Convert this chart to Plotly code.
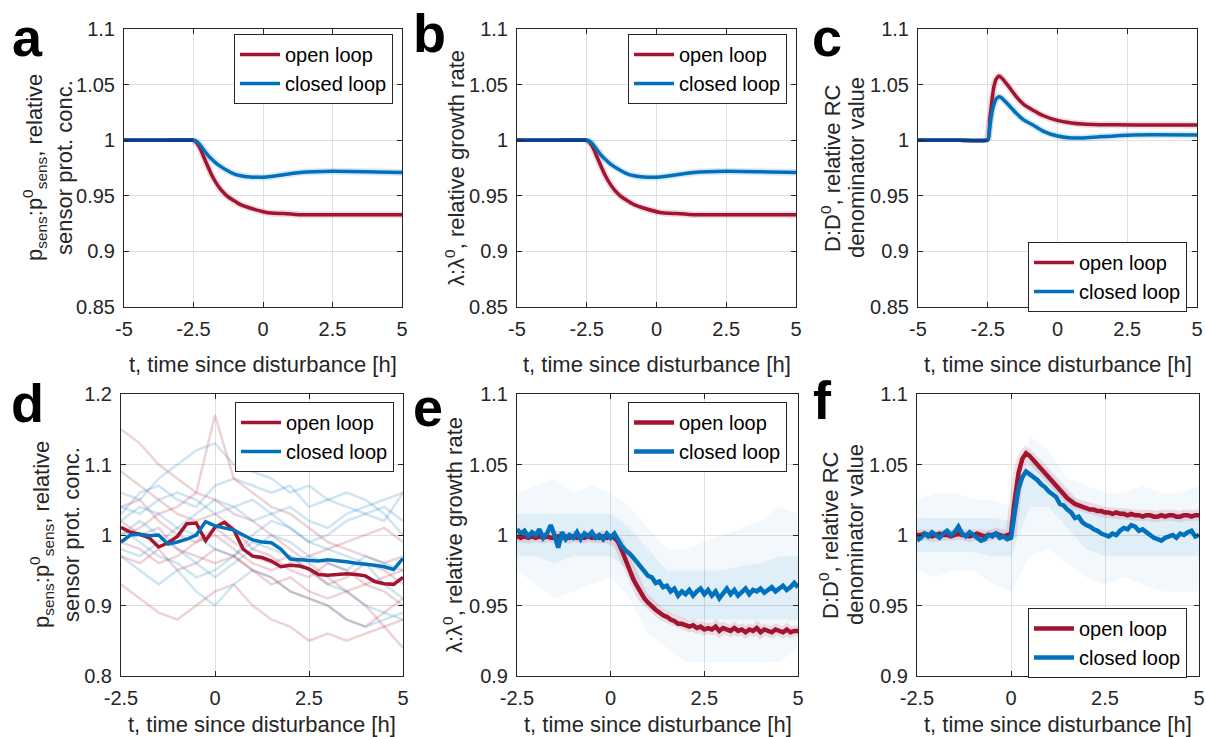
import numpy as np
import plotly.graph_objects as go

# ---------------- data ----------------
# panels a and b (model, deterministic)
t_ab = [-5.0, -3.5, -2.5, -2.4, -2.27, -2.15, -2.03, -1.85, -1.67, -1.5, -1.3,
        -1.07, -0.8, -0.47, 0.13, 0.73, 1.33, 2.5, 5.0]
a_open = [1.0, 1.0, 1.0, 0.998, 0.993, 0.986, 0.979, 0.969, 0.961, 0.955, 0.950,
          0.946, 0.942, 0.939, 0.935, 0.934, 0.933, 0.933, 0.933]
a_closed = [1.0, 1.0, 1.0, 0.999, 0.996, 0.992, 0.988, 0.983, 0.979, 0.976, 0.973,
            0.970, 0.968, 0.967, 0.967, 0.969, 0.971, 0.972, 0.971]
b_open = [1.0, 1.0, 1.0, 0.998, 0.993, 0.986, 0.979, 0.969, 0.961, 0.955, 0.950,
          0.946, 0.942, 0.939, 0.935, 0.934, 0.933, 0.933, 0.933]
b_closed = [1.0, 1.0, 1.0, 0.999, 0.996, 0.992, 0.988, 0.983, 0.979, 0.976, 0.973,
            0.970, 0.968, 0.967, 0.967, 0.969, 0.971, 0.972, 0.971]

# panel c
t_c = [-5.0, -3.5, -2.5, -2.42, -2.35, -2.28, -2.2, -2.1, -2.0, -1.8, -1.47, -1.2,
       -0.88, -0.5, -0.04, 0.5, 0.91, 1.5, 2.7, 5.0]
c_open = [1.0, 1.0, 1.0, 1.020, 1.036, 1.048, 1.055, 1.0577, 1.056, 1.050, 1.039, 1.032,
          1.027, 1.022, 1.018, 1.0155, 1.0145, 1.014, 1.0137, 1.0137]
c_closed = [1.0, 1.0, 1.0, 1.014, 1.025, 1.032, 1.037, 1.039, 1.038, 1.033, 1.024, 1.018,
            1.0137, 1.008, 1.004, 1.002, 1.002, 1.003, 1.0047, 1.0047]

# panel d (single-cell trajectories, mean lines every 0.25 h)
t_d = np.arange(-2.5, 5.001, 0.25)
d_open = [1.011, 1.004, 1.001, 0.996, 0.983, 0.989, 0.998, 1.016, 1.017, 0.992,
          1.011, 1.018, 1.007, 0.980, 0.970, 0.968, 0.963, 0.955, 0.957, 0.956,
          0.952, 0.944, 0.943, 0.944, 0.945, 0.944, 0.942, 0.934, 0.931, 0.930, 0.940]
d_closed = [0.990, 1.000, 1.001, 0.999, 1.000, 0.987, 0.990, 0.994, 1.000, 1.019,
            1.013, 1.010, 1.007, 1.000, 0.993, 0.990, 0.989, 0.980, 0.966, 0.965,
            0.964, 0.963, 0.965, 0.964, 0.962, 0.960, 0.959, 0.957, 0.955, 0.951, 0.967]
# faint individual trajectories every 0.5 h
t_df = np.arange(-2.5, 5.001, 0.5)
d_open_cells = [
    [1.15, 1.13, 1.10, 1.08, 1.06, 1.05, 1.03, 1.02, 1.00, 0.98, 0.96, 0.94, 0.92, 0.90, 0.87, 0.84],
    [0.93, 0.91, 0.89, 0.88, 0.90, 0.92, 0.93, 0.90, 0.88, 0.87, 0.85, 0.86, 0.85, 0.86, 0.87, 0.88],
    [1.00, 1.01, 1.03, 1.04, 1.06, 1.17, 1.08, 1.06, 1.04, 1.03, 1.01, 0.99, 0.98, 0.97, 0.96, 0.97],
    [1.09, 1.07, 1.05, 1.03, 1.02, 1.03, 1.01, 0.98, 0.97, 0.95, 0.94, 0.96, 0.95, 0.93, 0.92, 0.90],
    [0.97, 0.96, 0.98, 0.95, 0.96, 0.98, 0.97, 0.95, 0.94, 0.92, 0.91, 0.90, 0.88, 0.87, 0.89, 0.91],
    [1.04, 1.05, 1.02, 1.00, 0.99, 1.01, 0.99, 0.97, 0.96, 0.97, 0.95, 0.93, 0.94, 0.96, 0.95, 0.93],
    [0.99, 0.98, 0.96, 0.97, 0.99, 1.00, 0.98, 0.96, 0.95, 0.96, 0.97, 0.98, 0.99, 1.00, 1.01, 0.99],
    [1.02, 1.00, 1.01, 0.98, 0.97, 0.96, 0.97, 0.95, 0.93, 0.94, 0.92, 0.91, 0.92, 0.93, 0.94, 0.95],
]
d_closed_cells = [
    [1.06, 1.05, 1.08, 1.10, 1.12, 1.13, 1.10, 1.09, 1.08, 1.06, 1.07, 1.05, 1.04, 1.03, 1.02, 1.06],
    [1.03, 1.06, 1.07, 1.05, 1.04, 1.07, 1.08, 1.07, 1.06, 1.07, 1.04, 1.05, 1.06, 1.05, 1.03, 1.00],
    [0.97, 0.95, 0.93, 0.95, 0.92, 0.90, 0.93, 0.95, 0.94, 0.92, 0.91, 0.90, 0.88, 0.87, 0.88, 0.89],
    [1.02, 1.04, 1.03, 1.01, 1.03, 1.05, 1.04, 1.02, 1.03, 1.01, 0.99, 1.00, 1.02, 1.03, 1.04, 1.02],
    [0.98, 0.97, 0.99, 1.01, 1.00, 0.98, 0.97, 0.99, 0.98, 0.97, 0.95, 0.93, 0.92, 0.90, 0.89, 0.88],
    [1.00, 1.02, 1.00, 0.98, 0.96, 0.94, 0.96, 0.98, 1.00, 0.99, 0.97, 0.96, 0.95, 0.97, 0.96, 0.95],
    [1.01, 0.99, 0.97, 0.96, 0.94, 0.95, 0.97, 1.00, 1.02, 1.01, 0.99, 0.98, 0.97, 0.96, 0.93, 0.91],
    [1.04, 1.03, 1.05, 1.06, 1.05, 1.03, 1.04, 1.05, 1.03, 1.04, 1.02, 1.01, 1.03, 1.04, 1.05, 1.06],
]

# panels e and f (population means every 0.1 h)
t_ef = np.round(np.arange(-25, 51) / 10.0, 1)
e_closed = [1.004, 1.001, 1.003, 0.999, 1.002, 1.000, 1.004, 0.998, 1.001, 1.007,
            1.000, 0.991, 1.002, 0.997, 1.000, 0.998, 1.002, 0.997, 1.001, 0.999,
            1.002, 0.998, 1.000, 0.997, 1.001, 0.998, 1.001, 0.996, 0.992, 0.989,
            0.987, 0.984, 0.981, 0.977, 0.975, 0.971, 0.970, 0.966, 0.967, 0.963,
            0.964, 0.960, 0.962, 0.957, 0.960, 0.958, 0.961, 0.957, 0.960, 0.962,
            0.958, 0.961, 0.957, 0.960, 0.955, 0.959, 0.962, 0.958, 0.961, 0.957,
            0.960, 0.962, 0.958, 0.961, 0.960, 0.962, 0.959, 0.961, 0.963, 0.960,
            0.962, 0.964, 0.961, 0.963, 0.966, 0.963]
e_open = [0.999, 0.998, 0.999, 0.998, 0.999, 0.998, 0.999, 0.998, 0.999, 0.998,
          0.998, 0.999, 0.998, 0.999, 0.998, 0.999, 0.998, 0.999, 0.998, 0.999,
          0.998, 0.999, 0.998, 0.999, 0.998, 0.999, 0.998, 0.995, 0.989, 0.982,
          0.975, 0.969, 0.964, 0.959, 0.955, 0.952, 0.949, 0.947, 0.945, 0.943,
          0.942, 0.940, 0.939, 0.937, 0.937, 0.936, 0.935, 0.936, 0.934, 0.935,
          0.933, 0.934, 0.933, 0.935, 0.932, 0.934, 0.933, 0.932, 0.934, 0.932,
          0.933, 0.931, 0.933, 0.932, 0.934, 0.931, 0.933, 0.932, 0.931, 0.933,
          0.932, 0.931, 0.933, 0.931, 0.932, 0.932]
f_closed = [0.996, 0.998, 1.001, 0.999, 1.002, 1.000, 0.998, 1.001, 1.003, 1.000,
            1.002, 1.006, 1.001, 0.999, 1.002, 1.000, 0.998, 0.996, 0.997, 1.000,
            0.999, 1.001, 0.998, 0.999, 0.997, 0.998, 1.016, 1.033, 1.041, 1.045,
            1.043, 1.041, 1.039, 1.036, 1.034, 1.031, 1.029, 1.027, 1.022, 1.021,
            1.018, 1.016, 1.012, 1.013, 1.009, 1.007, 1.006, 1.004, 1.003, 1.001,
            1.000, 0.999, 1.001, 1.000, 1.003, 1.005, 1.004, 1.007, 1.006, 1.003,
            1.004, 1.002, 1.000, 0.998, 0.997, 0.996, 0.998, 0.999, 1.000, 0.998,
            1.001, 1.000, 1.002, 1.003, 0.999, 1.000]
f_open = [1.000, 1.000, 1.001, 1.000, 0.999, 1.000, 1.001, 1.000, 1.000, 0.999,
          1.000, 1.001, 1.000, 1.000, 0.999, 1.000, 1.001, 1.000, 0.999, 1.000,
          1.000, 1.001, 1.000, 0.999, 1.000, 1.001, 1.025, 1.044, 1.054, 1.058,
          1.056, 1.053, 1.050, 1.046, 1.043, 1.040, 1.037, 1.034, 1.031, 1.029,
          1.026, 1.024, 1.022, 1.021, 1.020, 1.019, 1.018, 1.018, 1.017, 1.017,
          1.016, 1.016, 1.015, 1.016, 1.015, 1.015, 1.014, 1.015, 1.014, 1.014,
          1.013, 1.014, 1.014, 1.013, 1.013, 1.014, 1.013, 1.014, 1.014, 1.013,
          1.013, 1.014, 1.014, 1.013, 1.014, 1.014]
# spread of single-cell traces (closed loop) every 0.5 h
t_env = [-2.5, -2.0, -1.5, -1.0, -0.5, 0.0, 0.5, 1.0, 1.5, 2.0, 2.5, 3.0, 3.5, 4.0, 4.5, 5.0]
e_outer_hi = [1.03, 1.035, 1.04, 1.03, 1.035, 1.03, 1.02, 1.005, 0.99, 0.99, 0.995, 1.0, 1.005, 1.01, 1.02, 1.015]
e_outer_lo = [0.975, 0.965, 0.955, 0.96, 0.965, 0.97, 0.955, 0.93, 0.92, 0.91, 0.91, 0.91, 0.91, 0.91, 0.91, 0.92]
e_inner_hi = [1.015, 1.015, 1.015, 1.015, 1.015, 1.015, 1.005, 0.99, 0.975, 0.975, 0.975, 0.975, 0.978, 0.98, 0.985, 0.985]
e_inner_lo = [0.985, 0.985, 0.98, 0.985, 0.985, 0.985, 0.975, 0.955, 0.945, 0.94, 0.94, 0.94, 0.94, 0.94, 0.94, 0.94]
f_outer_hi = [1.025, 1.03, 1.03, 1.025, 1.025, 1.02, 1.07, 1.06, 1.04, 1.035, 1.03, 1.03, 1.035, 1.03, 1.03, 1.035]
f_outer_lo = [0.975, 0.97, 0.975, 0.975, 0.965, 0.96, 0.985, 0.99, 0.98, 0.97, 0.965, 0.97, 0.965, 0.96, 0.96, 0.96]
f_inner_hi = [1.012, 1.012, 1.012, 1.012, 1.012, 1.01, 1.055, 1.045, 1.03, 1.02, 1.015, 1.018, 1.015, 1.015, 1.015, 1.015]
f_inner_lo = [0.988, 0.988, 0.988, 0.988, 0.985, 0.985, 1.02, 1.02, 1.005, 0.99, 0.985, 0.985, 0.985, 0.985, 0.985, 0.985]

# ---------------- styling ----------------
W, H = 1206, 737
RED = "#A2142F"
BLUE = "#0072BD"
NAVY = "#0B3F8C"
TXT = "#262626"
FONT = "Liberation Sans, Arial, Helvetica, sans-serif"
LEG_NAMES = ["open loop", "closed loop"]

fig = go.Figure()

panels = [
    # label, x px, y px, xrange, yrange, xticks, yticks, legend pos (px)
    ("a", (124, 402), (29, 307), [-5, 5], [0.85, 1.1], [-5, -2.5, 0, 2.5, 5], [0.85, 0.9, 0.95, 1, 1.05, 1.1], (234, 34)),
    ("b", (517, 796), (29, 307), [-5, 5], [0.85, 1.1], [-5, -2.5, 0, 2.5, 5], [0.85, 0.9, 0.95, 1, 1.05, 1.1], (628, 34)),
    ("c", (918, 1197), (29, 307), [-5, 5], [0.85, 1.1], [-5, -2.5, 0, 2.5, 5], [0.85, 0.9, 0.95, 1, 1.05, 1.1], (1028, 242)),
    ("d", (121, 403), (394, 676), [-2.5, 5], [0.8, 1.2], [-2.5, 0, 2.5, 5], [0.8, 0.9, 1, 1.1, 1.2], (235, 402)),
    ("e", (517, 798), (394, 676), [-2.5, 5], [0.9, 1.1], [-2.5, 0, 2.5, 5], [0.9, 0.95, 1, 1.05, 1.1], (628, 402)),
    ("f", (917, 1199), (394, 676), [-2.5, 5], [0.9, 1.1], [-2.5, 0, 2.5, 5], [0.9, 0.95, 1, 1.05, 1.1], (1028, 608)),
]
# panel letter centres (px)
letter_pos = {"a": (27, 37), "b": (429, 33), "c": (827, 37), "d": (27, 403), "e": (428, 407), "f": (823, 400)}

layout = dict(width=W, height=H, margin=dict(l=0, r=0, t=0, b=0, autoexpand=False),
              paper_bgcolor="white", plot_bgcolor="white", showlegend=True,
              font=dict(family=FONT, size=20, color=TXT))
annotations = []

for i, (lab, xp, yp, xr, yr, xt, yt, lp) in enumerate(panels, start=1):
    sfx = "" if i == 1 else str(i)
    layout["xaxis" + sfx] = dict(
        domain=[xp[0] / W, xp[1] / W], range=xr, anchor="y" + sfx, automargin=False,
        tickvals=xt, ticktext=[f"{v:g}" for v in xt],
        showgrid=True, gridcolor="#e0e0e0", gridwidth=1, zeroline=False,
        showline=True, linecolor=TXT, linewidth=1, mirror="ticks",
        ticks="inside", ticklen=5, tickcolor=TXT, ticklabelstandoff=4,
        tickfont=dict(family=FONT, size=20, color=TXT))
    layout["yaxis" + sfx] = dict(
        domain=[1 - yp[1] / H, 1 - yp[0] / H], range=yr, anchor="x" + sfx, automargin=False,
        tickvals=yt, ticktext=[f"{v:g}" for v in yt],
        showgrid=True, gridcolor="#e0e0e0", gridwidth=1, zeroline=False,
        showline=True, linecolor=TXT, linewidth=1, mirror="ticks",
        ticks="inside", ticklen=5, tickcolor=TXT, ticklabelstandoff=4,
        tickfont=dict(family=FONT, size=20, color=TXT))
    lkey = "legend" if i == 1 else "legend" + str(i)
    layout[lkey] = dict(x=lp[0] / W, y=1 - lp[1] / H, xanchor="left", yanchor="top",
                        bgcolor="white", bordercolor=TXT, borderwidth=1,
                        font=dict(family=FONT, size=20, color="black"),
                        itemwidth=40, tracegroupgap=0)
    lx, ly = letter_pos[lab]
    annotations.append(dict(text="<b>%s</b>" % lab, xref="paper", yref="paper",
                            x=lx / W, y=1 - ly / H,
                            xanchor="center", yanchor="middle", showarrow=False,
                            font=dict(family=FONT, size=54, color="black")))
    # x title
    xt_y = yp[1] + (57 if i <= 3 else 48)
    annotations.append(dict(text="t, time since disturbance [h]", xref="paper", yref="paper",
                            x=(xp[0] + xp[1]) / 2 / W, y=1 - xt_y / H,
                            xanchor="center", yanchor="middle", showarrow=False,
                            font=dict(family=FONT, size=22, color=TXT)))


def ytitle(text, xpx, ypx):
    annotations.append(dict(text=text, xref="paper", yref="paper", x=xpx / W, y=1 - ypx / H,
                            xanchor="center", yanchor="middle", showarrow=False, textangle=-90,
                            font=dict(family=FONT, size=22, color=TXT)))


psens = "p<sub>sens</sub>:p<sup>0</sup><sub>sens</sub>, relative"
ytitle(psens, 35, 168)
ytitle("sensor prot. conc.", 65, 168)
ytitle("λ:λ<sup>0</sup>, relative growth rate", 455, 168)
ytitle("D:D<sup>0</sup>, relative RC", 831, 168)
ytitle("denominator value", 857, 168)
ytitle(psens, 41, 535)
ytitle("sensor prot. conc.", 71, 535)
ytitle("λ:λ<sup>0</sup>, relative growth rate", 453, 535)
ytitle("D:D<sup>0</sup>, relative RC", 829, 535)
ytitle("denominator value", 855, 535)

layout["annotations"] = annotations
fig.update_layout(**layout)


def ax(i):
    s = "" if i == 1 else str(i)
    return "x" + s, "y" + s


def legname(i):
    return "legend" if i == 1 else "legend" + str(i)


def model_panel(i, t, yo, yc, shape_smooth):
    xa, ya = ax(i)
    t = np.asarray(t)
    yo = np.asarray(yo)
    yc = np.asarray(yc)
    post = t >= -2.5
    pre = t <= -2.5
    line_kw = dict(shape="spline", smoothing=shape_smooth)
    fig.add_trace(go.Scatter(x=t[post], y=yo[post], mode="lines", xaxis=xa, yaxis=ya,
                             line=dict(color=RED, width=7, **line_kw), opacity=0.14,
                             showlegend=False, hoverinfo="skip"))
    fig.add_trace(go.Scatter(x=t[post], y=yc[post], mode="lines", xaxis=xa, yaxis=ya,
                             line=dict(color=BLUE, width=7, **line_kw), opacity=0.14,
                             showlegend=False, hoverinfo="skip"))
    fig.add_trace(go.Scatter(x=t, y=yo, mode="lines", xaxis=xa, yaxis=ya, name=LEG_NAMES[0],
                             line=dict(color=RED, width=3.5, **line_kw), legend=legname(i)))
    fig.add_trace(go.Scatter(x=t, y=yc, mode="lines", xaxis=xa, yaxis=ya, name=LEG_NAMES[1],
                             line=dict(color=BLUE, width=3.5, **line_kw), legend=legname(i)))
    fig.add_trace(go.Scatter(x=t[pre], y=yc[pre], mode="lines", xaxis=xa, yaxis=ya,
                             line=dict(color=NAVY, width=3.5), showlegend=False, hoverinfo="skip"))


model_panel(1, t_ab, a_open, a_closed, 0.5)
model_panel(2, t_ab, b_open, b_closed, 0.5)
model_panel(3, t_c, c_open, c_closed, 0.4)

# panel d
xa, ya = ax(4)
for k in range(max(len(d_open_cells), len(d_closed_cells))):
    if k < len(d_open_cells):
        fig.add_trace(go.Scatter(x=t_df, y=d_open_cells[k], mode="lines", xaxis=xa, yaxis=ya,
                                 line=dict(color=RED, width=2.5), opacity=0.18,
                                 showlegend=False, hoverinfo="skip"))
    if k < len(d_closed_cells):
        fig.add_trace(go.Scatter(x=t_df, y=d_closed_cells[k], mode="lines", xaxis=xa, yaxis=ya,
                                 line=dict(color=BLUE, width=2.5), opacity=0.18,
                                 showlegend=False, hoverinfo="skip"))
fig.add_trace(go.Scatter(x=t_d, y=d_open, mode="lines", xaxis=xa, yaxis=ya, name=LEG_NAMES[0],
                         line=dict(color=RED, width=3.5), legend="legend4"))
fig.add_trace(go.Scatter(x=t_d, y=d_closed, mode="lines", xaxis=xa, yaxis=ya, name=LEG_NAMES[1],
                         line=dict(color=BLUE, width=3.5), legend="legend4"))


def noisy_panel(i, yo, yc, o_hi, o_lo, i_hi, i_lo):
    xa, ya = ax(i)
    tx = list(t_env) + list(t_env)[::-1]
    fig.add_trace(go.Scatter(x=tx, y=list(o_hi) + list(o_lo)[::-1], mode="lines", fill="toself",
                             fillcolor="rgba(0,114,189,0.05)", line=dict(width=0),
                             xaxis=xa, yaxis=ya, showlegend=False, hoverinfo="skip"))
    fig.add_trace(go.Scatter(x=tx, y=list(i_hi) + list(i_lo)[::-1], mode="lines", fill="toself",
                             fillcolor="rgba(0,114,189,0.07)", line=dict(width=0),
                             xaxis=xa, yaxis=ya, showlegend=False, hoverinfo="skip"))
    fig.add_trace(go.Scatter(x=t_ef, y=yo, mode="lines", xaxis=xa, yaxis=ya,
                             line=dict(color=RED, width=11), opacity=0.12,
                             showlegend=False, hoverinfo="skip"))
    fig.add_trace(go.Scatter(x=t_ef, y=yo, mode="lines", xaxis=xa, yaxis=ya, name=LEG_NAMES[0],
                             line=dict(color=RED, width=4.5), legend=legname(i)))
    fig.add_trace(go.Scatter(x=t_ef, y=yc, mode="lines", xaxis=xa, yaxis=ya, name=LEG_NAMES[1],
                             line=dict(color=BLUE, width=4.5), legend=legname(i)))


noisy_panel(5, e_open, e_closed, e_outer_hi, e_outer_lo, e_inner_hi, e_inner_lo)
noisy_panel(6, f_open, f_closed, f_outer_hi, f_outer_lo, f_inner_hi, f_inner_lo)

fig.write_html("out.html")
